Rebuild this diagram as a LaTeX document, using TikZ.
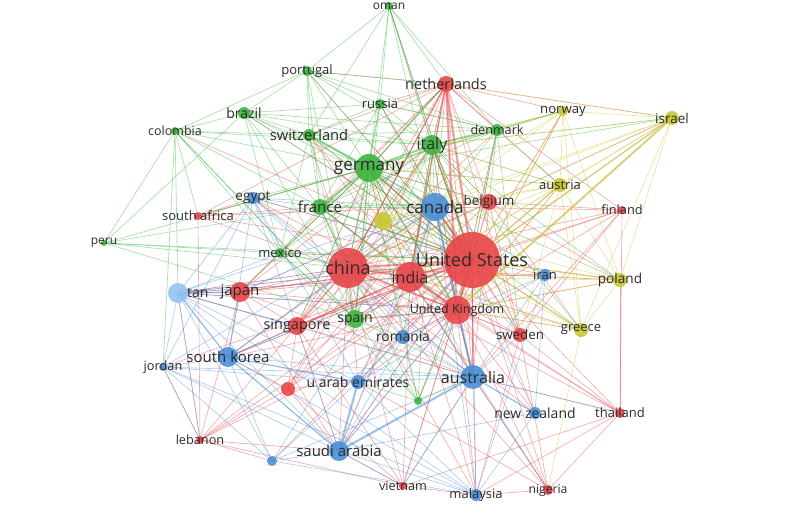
\documentclass[tikz,border=0pt]{standalone}
\usepackage{fontspec}
\setmainfont{Open Sans}
\usetikzlibrary{backgrounds}
\pgfdeclarelayer{front}
\pgfsetlayers{background,main,front}
\definecolor{cred}{HTML}{E8464A}
\definecolor{cgreen}{HTML}{3DB540}
\definecolor{cblue}{HTML}{4A8FD8}
\definecolor{clight}{HTML}{92C3F2}
\definecolor{cyellow}{HTML}{C8C733}
\definecolor{ink}{HTML}{2B2B2B}
\tikzset{
  dot/.style={circle, inner sep=0pt, draw=none, fill opacity=0.9},
  lbl/.style={text=ink, inner sep=0pt},
  link/.style={line width=0.65pt, draw opacity=0.45},
  mid/.style={line width=1.3pt, draw opacity=0.4},
  heavy/.style={line width=2.4pt, draw opacity=0.4},
}

\begin{document}
\begin{tikzpicture}[x=1pt, y=-1pt]
  \useasboundingbox (0,0) rectangle (800,513);
  \newcommand{\country}[7]{% name, x, y, radius, colour, font size, label
    \node[dot, fill=#5, minimum size=2*#4] (#1) at (#2,#3) {};
    \begin{pgfonlayer}{front}
      \node[lbl, font=\fontsize{#6}{#6}\selectfont] (#1-l) at (#1) {#7};
    \end{pgfonlayer}}
  % red cluster
  \country{us}{472}{260}{28}{cred}{18}{United States}
  \country{uk}{457}{310}{14}{cred}{12.5}{United Kingdom}
  \country{china}{348}{268}{20}{cred}{18}{china}
  \country{india}{410}{277}{15}{cred}{16}{india}
  \country{japan}{240}{292}{10}{cred}{15}{japan}
  \country{singapore}{297}{326}{9}{cred}{14.5}{singapore}
  \country{netherlands}{446}{84}{8}{cred}{14.5}{netherlands}
  \country{belgium}{489}{202}{8}{cred}{13.5}{belgium}
  \country{southafrica}{198}{216}{4}{cred}{13}{south africa}
  \country{finland}{622}{210}{4}{cred}{12.8}{finland}
  \country{sweden}{520}{335}{7}{cred}{13.3}{sweden}
  \country{thailand}{620}{413}{5}{cred}{13}{thailand}
  \country{lebanon}{200}{440}{4}{cred}{12.7}{lebanon}
  \country{vietnam}{403}{486}{4}{cred}{12.7}{vietnam}
  \country{nigeria}{548}{490}{5}{cred}{12.2}{nigeria}
  \country{redx}{288}{389}{7}{cred}{12}{}
  % green cluster
  \country{germany}{369}{168}{14}{cgreen}{17}{germany}
  \country{italy}{432}{145}{10}{cgreen}{16}{italy}
  \country{france}{320}{207}{8}{cgreen}{15}{france}
  \country{switzerland}{309}{135}{6}{cgreen}{14.7}{switzerland}
  \country{spain}{355}{319}{9}{cgreen}{14}{spain}
  \country{portugal}{307}{71}{5}{cgreen}{13}{portugal}
  \country{brazil}{244}{113}{6}{cgreen}{14}{brazil}
  \country{colombia}{175}{131}{4}{cgreen}{12.5}{colombia}
  \country{russia}{380}{104}{5}{cgreen}{13}{russia}
  \country{oman}{389}{6}{4}{cgreen}{12}{oman}
  \country{denmark}{497}{130}{6}{cgreen}{12.6}{denmark}
  \country{mexico}{280}{253}{5}{cgreen}{13}{mexico}
  \country{peru}{104}{243}{3}{cgreen}{12}{peru}
  \country{greenx}{418}{401}{4}{cgreen}{12}{}
  % blue cluster
  \country{canada}{435}{207}{14}{cblue}{17}{canada}
  \country{australia}{473}{377}{12}{cblue}{16}{australia}
  \country{southkorea}{228}{357}{10}{cblue}{15}{south korea}
  \country{saudi}{339}{451}{10}{cblue}{15}{saudi arabia}
  \country{uae}{358}{382}{7}{cblue}{14}{u arab emirates}
  \country{egypt}{253}{198}{6}{cblue}{13.6}{egypt}
  \country{iran}{545}{275}{6}{cblue}{13}{iran}
  \country{romania}{403}{337}{7}{cblue}{13.8}{romania}
  \country{newzealand}{535}{413}{6}{cblue}{14}{new zealand}
  \country{malaysia}{476}{495}{6}{cblue}{13}{malaysia}
  \country{jordan}{163}{367}{4}{cblue}{12.8}{jordan}
  \country{bluex}{272}{461}{5}{cblue}{12}{}
  \node[dot, fill=clight, minimum size=20] (tan) at (178,293) {};
  \begin{pgfonlayer}{front}
    \node[lbl, font=\fontsize{14}{14}\selectfont, anchor=west] (tan-l) at (187,293) {tan};
  \end{pgfonlayer}
  % yellow cluster
  \country{norway}{563}{111}{5}{cyellow}{13.2}{norway}
  \country{israel}{672}{118}{7}{cyellow}{13.5}{israel}
  \country{austria}{560}{185}{7}{cyellow}{13}{austria}
  \country{poland}{620}{280}{7}{cyellow}{13.6}{poland}
  \country{greece}{581}{330}{7}{cyellow}{13}{greece}
  \country{yellowx}{383}{221}{9}{cyellow}{12}{}
  % links
  \begin{scope}[on background layer]
    \foreach \a/\bs in {
      us/{uk,china,india,japan,singapore,netherlands,belgium,southafrica,finland,sweden,thailand,lebanon,vietnam,nigeria,redx,canada,australia,germany,italy,france,switzerland,spain,portugal,brazil,colombia,russia,denmark,mexico,southkorea,saudi,uae,egypt,iran,romania,newzealand,malaysia,jordan,tan,norway,israel,austria,poland,greece,yellowx,bluex,greenx,oman},
      uk/{china,india,japan,singapore,netherlands,belgium,southafrica,finland,sweden,thailand,lebanon,vietnam,nigeria,canada,australia,germany,italy,france,spain,saudi,uae,malaysia,newzealand,greece,poland,israel,norway,austria,tan,southkorea,romania,denmark,switzerland,egypt},
      china/{india,japan,singapore,netherlands,belgium,sweden,thailand,vietnam,nigeria,canada,australia,germany,italy,france,spain,southkorea,saudi,uae,tan,malaysia,newzealand,finland,egypt,redx,israel,poland,switzerland,denmark,romania,iran},
      india/{japan,singapore,netherlands,sweden,thailand,vietnam,nigeria,canada,australia,germany,italy,france,spain,southkorea,saudi,uae,malaysia,tan,redx,lebanon,greece,belgium,switzerland,iran,finland},
      netherlands/{belgium,sweden,finland,israel,norway,portugal,germany,italy,canada,australia,india,denmark,austria,spain,china,france,switzerland,russia,singapore},
      japan/{singapore,southkorea,tan,lebanon,australia,canada,saudi,netherlands,germany,italy},
      singapore/{southkorea,tan,australia,saudi,vietnam,redx,lebanon,canada,italy,germany},
      belgium/{sweden,canada,italy,australia,germany,poland,greece},
      sweden/{thailand,nigeria,malaysia,finland,canada,italy},
      thailand/{malaysia,vietnam,nigeria,australia,finland,poland},
      lebanon/{vietnam,jordan,bluex,saudi,tan},
      redx/{saudi,vietnam,lebanon,southkorea,uae,canada,italy},
      southafrica/{lebanon,egypt,france,germany,canada,netherlands},
      finland/{belgium,australia,canada},
      nigeria/{malaysia,australia,uae},
      vietnam/{malaysia,australia,saudi}}
      {\foreach \b in \bs {\draw[link, cred] (\a.center) -- (\b.center);}}
    \foreach \a/\bs in {
      germany/{italy,france,switzerland,spain,portugal,brazil,colombia,russia,oman,denmark,mexico,peru,greenx,canada,netherlands,belgium,austria,norway,israel,egypt,southafrica,china,india,uk,us,romania,poland,greece,sweden,australia,japan,singapore},
      italy/{france,switzerland,spain,portugal,brazil,colombia,russia,oman,denmark,mexico,greenx,canada,netherlands,austria,norway,israel,poland,greece,romania,uk,us,china,india,belgium,sweden},
      france/{switzerland,spain,portugal,brazil,colombia,russia,denmark,mexico,peru,greenx,egypt,canada,uk,us,china,india,belgium},
      switzerland/{spain,portugal,brazil,colombia,russia,oman,denmark,mexico,canada,us},
      spain/{portugal,brazil,colombia,russia,mexico,greenx,romania,australia,uk,us},
      portugal/{brazil,colombia,russia,oman,denmark,netherlands,us},
      brazil/{colombia,russia,mexico,peru,denmark,us,canada},
      colombia/{peru,mexico,spain,jordan,southafrica,tan},
      russia/{denmark,us,canada,china},
      oman/{russia,denmark,netherlands,italy,canada,us},
      denmark/{russia,norway,belgium,austria,canada,us,uk,sweden},
      greenx/{australia,uae,romania,mexico,uk,us},
      peru/{mexico,spain,china,us},
      mexico/{china,spain,india,us}}
      {\foreach \b in \bs {\draw[link, cgreen] (\a.center) -- (\b.center);}}
    \foreach \a/\bs in {
      canada/{australia,southkorea,saudi,uae,egypt,iran,romania,newzealand,malaysia,jordan,tan,bluex,germany,china,us,uk,india,japan},
      australia/{southkorea,saudi,uae,egypt,iran,romania,newzealand,malaysia,jordan,tan,bluex,china,india,uk,us,sweden,thailand,vietnam,nigeria},
      southkorea/{saudi,uae,egypt,jordan,tan,bluex,malaysia,japan,china,singapore,us},
      saudi/{uae,egypt,jordan,tan,bluex,malaysia,romania,newzealand,vietnam,us,uk},
      tan/{jordan,egypt,uae,bluex,lebanon,malaysia,mexico,china,japan,us,uk,india,singapore},
      uae/{egypt,jordan,bluex,malaysia,romania,iran,us},
      egypt/{jordan,romania,mexico,us},
      jordan/{bluex,malaysia,lebanon},
      malaysia/{newzealand,bluex,iran},
      iran/{newzealand,romania}}
      {\foreach \b in \bs {\draw[link, cblue] (\a.center) -- (\b.center);}}
    \foreach \a/\bs in {
      yellowx/{us,canada,germany,austria,israel,norway,poland,greece,italy,uk,india},
      austria/{israel,norway,poland,greece,us,uk,italy,germany,sweden,china,india,canada},
      israel/{norway,poland,greece,us,uk,canada,netherlands,china,india,italy},
      norway/{poland,greece,us,uk,germany,italy,china},
      poland/{greece,us,uk,india,china},
      greece/{us,uk,india,nigeria,china}}
      {\foreach \b in \bs {\draw[link, cyellow] (\a.center) -- (\b.center);}}
    % stronger links
    \foreach \a/\b in {us/japan, us/singapore, us/australia, us/italy, us/germany, china/uk, netherlands/china, netherlands/india, india/singapore, china/singapore, uk/australia}
      \draw[mid, cred] (\a.center) -- (\b.center);
    \foreach \a/\b in {germany/us, germany/uk, italy/us, germany/spain, germany/netherlands, italy/denmark, france/us}
      \draw[mid, cgreen] (\a.center) -- (\b.center);
    \foreach \a/\b in {tan/southkorea, southkorea/saudi, southkorea/uae, tan/japan, australia/newzealand}
      \draw[mid, cblue] (\a.center) -- (\b.center);
    \foreach \a/\b in {israel/us, austria/us, poland/us, greece/us}
      \draw[mid, cyellow] (\a.center) -- (\b.center);
    % strongest links
    \foreach \a/\b in {us/uk, us/netherlands, us/china, us/india, uk/india, us/canada, netherlands/uk, china/india}
      \draw[heavy, cred] (\a.center) -- (\b.center);
    \foreach \a/\b in {germany/italy, germany/france, germany/switzerland}
      \draw[heavy, cgreen] (\a.center) -- (\b.center);
    \foreach \a/\b in {australia/saudi, uae/saudi, canada/australia}
      \draw[heavy, cblue] (\a.center) -- (\b.center);
    \draw[heavy, cyellow] (israel.center) -- (uk.center);
  \end{scope}
\end{tikzpicture}
\end{document}
